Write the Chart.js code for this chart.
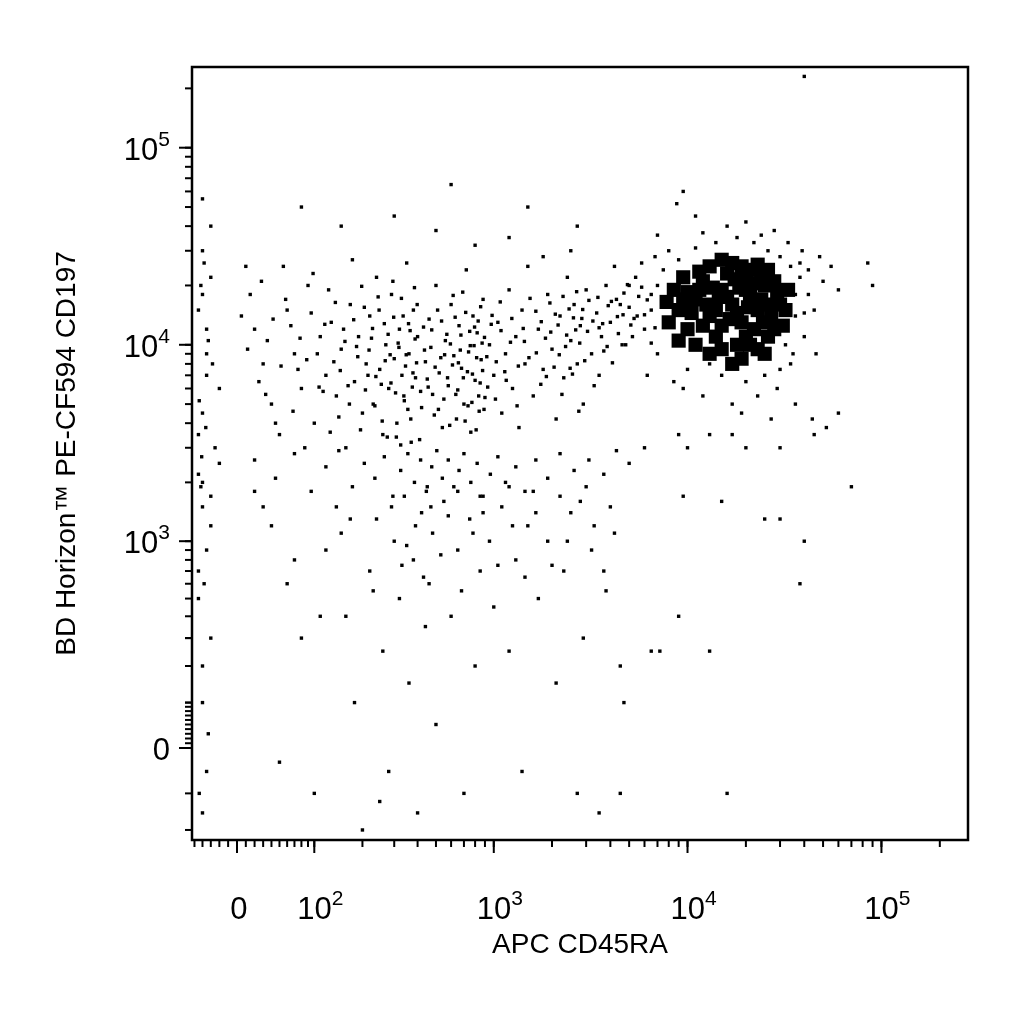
<!DOCTYPE html>
<html><head><meta charset="utf-8">
<script src="https://cdn.jsdelivr.net/npm/chart.js@4"></script>
<style>html,body{margin:0;background:#fff}#w{width:1024px;height:1024px}</style>
</head><body><div id="w"><canvas id="c"></canvas></div>
<script>
// raw fluorescence values [APC CD45RA, PE-CF594 CD197]
const clusterCore = [[9000,15000],[11000,17000],[13000,14000],[15000,19000],[17000,16000],[19000,13000],[21000,18000],[23000,15000],[25000,20000],[12000,21000],[14000,11000],[16000,23000],[18000,10000],[20000,22000],[22000,12000],[24000,17000],[10000,12000],[8500,19000],[27000,14000],[29000,18000],[13000,25000],[17000,26000],[21000,24000],[11000,10000],[15000,9500],[19000,8500],[23000,9500],[26000,11000],[9500,22000],[30000,16000],[12500,16000],[16500,13500],[20500,15500],[14500,17500],[18500,19500],[22500,20500],[10500,14500],[24500,13000],[28000,21000],[8000,13000],[31000,12500],[7800,16500],[13500,19500],[17500,21500],[26000,24000],[20000,11000],[15000,12500],[11500,23500],[33000,19000],[9000,10500],[10000,18500],[12000,12500],[14000,15000],[16000,17500],[18000,14500],[20000,19000],[22000,16500],[24000,22500],[26000,16000],[28000,12000],[13000,9000],[17000,8000],[21000,10000],[25000,9000],[9500,17000],[11500,19000],[19000,25000],[23000,25500],[15000,27000],[32000,15000]];
const clusterFringe = [[6000,12000],[6500,18000],[7000,9000],[5500,14000],[7500,24000],[8000,30000],[9000,27000],[11000,31000],[14000,33000],[18000,35000],[22000,33000],[26000,30000],[30000,28000],[34000,25000],[38000,22000],[42000,18000],[36000,14000],[40000,11000],[35000,9000],[30000,7500],[25000,7000],[20000,6500],[15000,7000],[10000,7500],[8500,6500],[12000,5500],[17000,5000],[23000,5500],[29000,6000],[45000,15000],[50000,21000],[55000,25000],[60000,19000],[85000,26000],[90000,20000],[48000,28000],[28000,38000],[16000,40000],[11000,45000],[9500,60000],[8800,52000],[20000,42000],[33000,33000],[5000,20000],[4800,10000],[6200,7000],[19000,4500],[27000,4200],[36000,5000],[44000,4200],[52000,3800],[7000,36000],[12000,37000],[24000,36000],[39000,30000],[46000,9000],[32000,10000],[5800,26000],[4500,16000],[13000,8000],[7000,20000],[6500,15000],[5200,11000],[6800,28000],[36000,18000],[38000,26000],[34000,8000],[9500,6000],[40000,14500],[42000,24000]];
const upperLeft = [[-40,30000],[-30,22000],[-45,15000],[-35,9000],[-20,6000],[-40,4500],[-25,3000],[-45,2200],[-35,12000],[-40,18000],[-30,40000],[-40,55000],[-35,7000],[-45,3500],[-20,2500],
[10,25000],[20,12000],[30,8000],[40,5000],[50,3500],[60,15000],[70,9000],[80,6000],[90,20000],[100,4000],[110,11000],[120,7000],[130,13000],[140,5500],[150,9500],[160,3000],[170,16000],[180,6500],[190,11000],[200,4500],[210,8000],[220,14000],[230,5000],[240,22000],[250,7500],[260,3500],[270,10000],[280,6000],[290,18000],[300,8500],[310,4000],[320,12000],[330,7000],[340,5200],[350,26000],[360,9000],[370,3200],[380,15000],[390,6800],[400,11000],[420,4800],[440,8200],[460,13500],[480,5600],[500,20000],[520,7200],[540,3800],[560,10500],[580,6200],[600,16000],[620,8800],[640,4200],[660,12500],[680,7600],[700,5000],[720,24000],[740,9200],[760,3600],[780,14000],[800,6600],[820,11500],[840,4600],[860,8400],[880,17000],[900,5400],[950,10000],[1000,7000],[1050,13000],[1100,4500],[1150,9000],[1200,19000],[1250,6000],[1300,11000],[1350,3800],[1400,15000],[1450,8000],[1500,25000],[1600,5500],[1700,12000],[1800,7500],[1900,18000],[2000,9500],[2100,4200],[2200,14000],[2300,6800],[2400,22000],[2500,10500],[2600,16000],[2700,8000],[2800,12500],[2900,5000],[3000,19000],[3200,9000],[3400,14500],[3600,11000],[3800,20000],[4000,13000],[4300,17000],[4600,10000],[5000,15500],[5400,22000],[3500,7000],[4200,25000],[2500,30000],[1800,28000],[1200,35000],[800,32000],[500,38000],[300,45000],[150,40000],[80,50000],[600,65000],[1500,50000],[2700,40000],
[15,18000],[25,6500],[35,10500],[45,4000],[55,25000],[65,12500],[75,7500],[85,3000],[95,14500],[105,9000],[115,5800],[125,19000],[135,8200],[145,4300],[155,12000],[165,6200],[175,27000],[185,9800],[195,3700],[205,15500],[215,7000],[225,10800],[235,4900],[245,17500],[255,6300],[265,12800],[275,3400],[285,8900],[295,21000],[305,5700],[315,10200],[325,3100],[335,14000],[345,7800],[355,4700],[365,11800],[375,6100],[385,19500],[395,8100],[410,3300],[430,12300],[450,6700],[470,9700],[490,4400],[510,15000],[530,8600],[550,5300],[570,11300],[590,3900],[610,7900],[630,13800],[650,5900],[670,9400],[690,18500],[710,4100],[730,7300],[750,11700],[770,5100],[790,9900],[810,3700],[830,13200],[850,6400],[870,10200],[890,4700],[920,8700],[970,12700],[1020,5300],[1080,16500],[1140,7300],[1220,10300],[1320,4900],[1420,12100],[1520,8600],[1650,14800],[1750,6300],[1850,10800],[1950,16300],[2050,7700],[2150,12600],[2250,5600],[2350,9800],[2450,15200],[2550,7100],[2650,11900],[2750,4600],[2850,13600],[2950,8300],[3100,16800],[3300,6200],[3500,12200],[3700,9300],[3900,15800],[4100,8100],[4400,11400],[4700,18300],[5100,12600],[5600,17600],[6000,14200],[6500,10200],
[-38,26000],[-42,20000],[-33,10500],[-28,8000],[-44,5200],[-36,3800],[-41,2700],[5,14000],[12,9500],[28,21000],[33,5600],[42,13500],[52,7800],[58,17000],[68,4600],[78,10800],[88,8400],[98,23000],[108,6100],[118,12700],[128,3600],[138,16400],[148,7400],[158,10400],[168,5000],[178,13400],[188,8700],[198,19800],[208,5900],[218,9400],[228,12100],[238,6900],[248,15000],[258,4100],[268,8300],[278,11300],[288,6400],[298,13800],[308,3400],[318,9700],[328,17200],[338,5500],[348,8900],[358,12800],[368,4200],[378,7200],[388,10700],[398,16000],[415,5800],[435,9400],[455,6100],[475,11900],[495,7700],[515,4700],[535,13200],[555,8900],[575,6800],[595,10100],[615,17800],[635,5600],[655,8100],[675,11200],[695,6800],[715,14600],[735,4900],[755,9900],[775,7100],[795,12300],[815,8600],[835,5500],[855,15600],[875,7400],[895,10900],[930,6100],[980,14100],[1030,8200],[1090,11800],[1160,6600],[1240,13600],[1340,7800],[1440,10400],[1540,17200],[1660,9100],[1760,13100],[1870,6900],[1970,11600],[2080,14300],[2180,8900],[2280,17600],[2380,11200],[2480,7600],[2580,13700],[2680,18600],[2780,10200],[2880,15100],[3050,11700],[3250,13200],[3450,17400],[3650,12800],[3850,9800],[4050,16600],[4350,13900],[4650,14200],[4900,20200],[5300,13600],[5800,19600],[6200,16900],[6800,12200],
[-40,2000],[-30,1700],[20,2600],[45,2100],[70,2800],[95,1800],[120,2400],[145,2900],[175,1900],[205,2500],[235,2100],[265,2700],[295,1700],[325,2300],[355,2800],[385,2000],[415,2600],[445,1800],[475,2400],[505,2900],[540,2100],[580,2600],[620,1900],[660,2300],[700,2800],[760,2000],[820,2500],[880,1700],[960,2200],[1050,2700],[1150,2000],[1300,2400],[1450,1800],[1650,2600],[1900,2100],[2200,2800],[2600,2300],[3100,2600],[3700,2200],[4300,2900],[5000,2500]];
const lowerLeft = [[-40,1500],[-35,900],[-45,500],[-30,300],[-40,100],[-35,-50],[-40,-150],[-45,700],[-30,1200],[-40,200],
[20,1800],[40,1200],[60,600],[80,300],[100,-100],[120,900],[140,1500],[160,400],[180,100],[200,-200],[220,700],[240,1300],[260,250],[280,-50],[300,1000],[320,500],[340,1700],[360,150],[380,800],[400,-150],[420,1400],[440,350],[460,600],[480,1100],[500,50],[550,1600],[600,400],[650,900],[700,-100],[750,1300],[800,200],[850,700],[900,-250],[950,1000],[1000,450],[1100,1500],[1200,250],[1300,800],[1400,-50],[1500,1200],[1700,500],[1900,1000],[2100,150],[2300,700],[2500,1400],[2700,-100],[2900,300],[3200,900],[3500,-150],[3800,550],[4200,1100],[4500,200],[4700,100],[6500,250],[7200,250],[9000,400],[13000,250],[16000,-100],[9000,-250],[4500,-100],[50,-30],[150,1100],[250,-120],[350,950],[450,1900],[650,1800],[850,1700],[1200,1900],[1600,1800],[2200,1700],[3000,1900],[4000,1500],[9500,1700],[15000,1600],[17000,3500],[30000,1300],[40000,1000],[38000,600],[25000,1300],[13000,3500],[9000,3500],[6000,3000],[10000,3000],[20000,3000],[30000,3000],[45000,3500],[60000,4500],[70000,1900],[40000,230000],
[-42,1900],[-38,600],[-33,30],[-44,-100],[30,1500],[70,800],[110,400],[170,1300],[230,550],[290,1500],[330,750],[390,1200],[430,650],[470,1500],[530,850],[580,1350],[680,550],[780,1100],[880,1400],[1050,750],[1250,1200],[1450,650],[1650,1400],[2000,750],[2400,1000],[2800,1600],[3300,1200],[3700,700]];

const xTicks = [0,100,1000,10000,100000];
const xTickLabels = [['0',''],['10','2'],['10','3'],['10','4'],['10','5']];
const yTicks = [0,1000,10000,100000];
const yTickLabels = [['0',''],['10','3'],['10','4'],['10','5']];

const tx = v => Math.asinh(v/95), ty = v => Math.asinh(v/180);
const toPts = arr => arr.map(p => ({x: tx(p[0]), y: ty(p[1])}));
const F = 'Liberation Sans, Arial';

const axisPlugin = {
  id:'axisdraw',
  afterDraw(chart){
    const ctx = chart.ctx, a = chart.chartArea, xs = chart.scales.x, ys = chart.scales.y;
    ctx.save(); ctx.strokeStyle='#000'; ctx.fillStyle='#000'; ctx.lineWidth=2;
    const minorX=[], minorY=[];
    for (let k=1;k<=5;k++) for (let d=1;d<10;d++){ minorX.push(d*Math.pow(10,k)); minorY.push(d*Math.pow(10,k)); }
    for (let d=1;d<=5;d++){ minorX.push(-d*10); }
    for (let d=-3;d<=3;d++){ minorY.push(d*100); }
    minorX.forEach(v=>{const p=xs.getPixelForValue(tx(v)); if(p>=a.left&&p<=a.right){ctx.beginPath();ctx.moveTo(p,a.bottom);ctx.lineTo(p,a.bottom+7);ctx.stroke();}});
    minorY.forEach(v=>{const p=ys.getPixelForValue(ty(v)); if(p>=a.top&&p<=a.bottom){ctx.beginPath();ctx.moveTo(a.left,p);ctx.lineTo(a.left-7,p);ctx.stroke();}});
    xTicks.forEach(v=>{const p=xs.getPixelForValue(tx(v));ctx.beginPath();ctx.moveTo(p,a.bottom);ctx.lineTo(p,a.bottom+13);ctx.stroke();});
    yTicks.forEach(v=>{const p=ys.getPixelForValue(ty(v));ctx.beginPath();ctx.moveTo(a.left,p);ctx.lineTo(a.left-13,p);ctx.stroke();});
    ctx.lineWidth=2.5; ctx.strokeRect(a.left,a.top,a.right-a.left,a.bottom-a.top);
    // tick labels with real superscripts
    ctx.textBaseline='alphabetic';
    const big='31px '+F, small='21px '+F;
    const draw=(lab,xc,yb,align)=>{
      ctx.font=big; const w1=ctx.measureText(lab[0]).width;
      ctx.font=small; const w2=lab[1]?ctx.measureText(lab[1]).width:0;
      const tot=w1+w2; let x0 = align==='right'? xc-tot : xc-tot/2;
      ctx.font=big; ctx.textAlign='left'; ctx.fillText(lab[0],x0,yb);
      if(lab[1]){ctx.font=small; ctx.fillText(lab[1],x0+w1,yb-14);}
    };
    xTicks.forEach((v,i)=>draw(xTickLabels[i], xs.getPixelForValue(tx(v))+ (i===0?2:6), a.bottom+79,'center'));
    yTicks.forEach((v,i)=>draw(yTickLabels[i], 170, ys.getPixelForValue(ty(v))+12,'right'));
    ctx.restore();
  }
};

const ds = (arr,r) => ({data: toPts(arr), backgroundColor:'#000', borderWidth:0, pointRadius:r, pointStyle:'rect'});
new Chart(document.getElementById('c'), {
  type:'scatter',
  data:{datasets:[ds(upperLeft,2.4), ds(lowerLeft,2.4), ds(clusterFringe,2.4), ds(clusterCore,10)]},
  options:{
    responsive:true, maintainAspectRatio:false, animation:false,
    layout:{padding:{top:67,right:56,left:0,bottom:0}},
    plugins:{legend:{display:false},tooltip:{enabled:false}},
    scales:{
      x:{type:'linear', min:-0.534, max:8.68,
        afterFit(s){s.height=184;},
        afterBuildTicks(s){s.ticks=xTicks.map(v=>({value:tx(v)}));},
        ticks:{display:false},
        grid:{display:false, drawTicks:false}, border:{display:false},
        title:{display:true, text:'APC CD45RA', color:'#000', font:{family:F, size:28}, padding:{top:0,bottom:62}}},
      y:{type:'linear', min:-1.075, max:7.956,
        afterFit(s){s.width=192;},
        afterBuildTicks(s){s.ticks=yTicks.map(v=>({value:ty(v)}));},
        ticks:{display:false},
        grid:{display:false, drawTicks:false}, border:{display:false},
        title:{display:true, text:'BD Horizon™ PE-CF594 CD197', color:'#000', font:{family:F, size:28}, padding:{top:50,bottom:0}}}
    }
  },
  plugins:[axisPlugin]
});
</script></body></html>
